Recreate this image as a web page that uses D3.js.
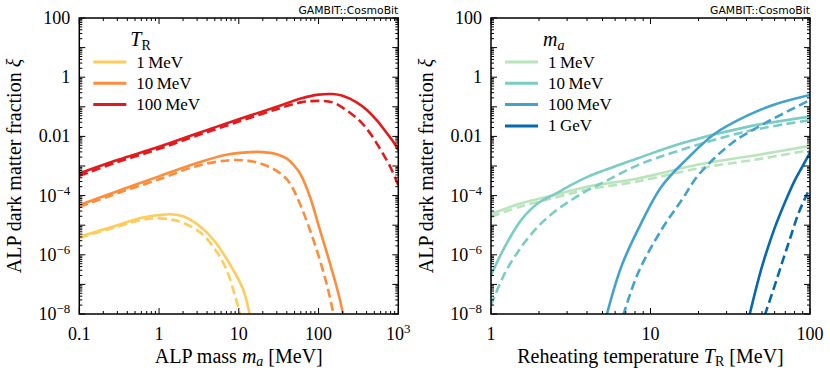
<!DOCTYPE html>
<html><head><meta charset="utf-8">
<script src="https://cdn.jsdelivr.net/npm/d3@7"></script>
<style>body{margin:0;background:#fff}</style>
</head><body><svg id="c" width="830" height="374"></svg>
<script>
// ---------------- DATA (y values given as log10 of xi) ----------------
// Left panel: xi vs ALP mass m_a [MeV], for reheating temperatures T_R
const leftLegend = ["1 MeV", "10 MeV", "100 MeV"];
const leftColors = ["#fecc5c", "#fd8d3c", "#e31a1c"];

const m_T1_solid  = [0.1, 0.3, 0.6, 1, 1.4, 2, 3.3, 5, 8.5, 11.4, 13.8];
const xi_T1_solid = [-5.39, -5.0, -4.75, -4.66, -4.63, -4.7, -5.05, -5.55, -6.51, -7.19, -8.05];
const m_T1_dash   = [0.1, 0.3, 0.6, 1, 1.5, 2, 3.3, 5, 7, 9, 10.5];
const xi_T1_dash  = [-5.42, -5.05, -4.82, -4.77, -4.82, -4.92, -5.25, -5.8, -6.5, -7.4, -8.05];

const m_T10_solid  = [0.1, 0.3, 1, 3, 7, 14, 20, 30, 40, 50, 60, 78, 104, 139, 177, 205];
const xi_T10_solid = [-4.32, -3.85, -3.35, -2.9, -2.62, -2.53, -2.53, -2.6, -2.75, -3.0, -3.3, -4.04, -5.16, -6.29, -7.3, -8.05];
const m_T10_dash   = [0.1, 0.3, 1, 3, 8, 15, 25, 35, 44, 58, 78, 104, 132, 155];
const xi_T10_dash  = [-4.38, -3.92, -3.45, -3.0, -2.8, -2.85, -3.05, -3.3, -3.59, -4.26, -5.16, -6.18, -7.19, -8.05];

const m_T100_solid  = [0.1, 0.3, 1, 3, 10, 30, 60, 100, 150, 200, 300, 400, 535, 700, 850, 1000];
const xi_T100_solid = [-3.25, -2.8, -2.35, -1.9, -1.42, -1.0, -0.72, -0.59, -0.57, -0.63, -0.85, -1.1, -1.45, -1.85, -2.15, -2.46];
const m_T100_dash   = [0.1, 0.3, 1, 3, 10, 30, 60, 100, 150, 250, 350, 450, 600, 800, 1000];
const xi_T100_dash  = [-3.33, -2.87, -2.42, -1.97, -1.5, -1.08, -0.85, -0.8, -0.85, -1.21, -1.55, -1.92, -2.45, -3.05, -3.65];

// Right panel: xi vs reheating temperature T_R [MeV], for ALP masses m_a
const rightLegend = ["1 MeV", "10 MeV", "100 MeV", "1 GeV"];
const rightColors = ["#bae4bc", "#7bccc4", "#43a2ca", "#0868ac"];

const T_m1_solid  = [1, 1.55, 2.5, 4, 8.3, 20, 50, 100];
const xi_m1_solid = [-4.62, -4.26, -3.98, -3.7, -3.42, -2.95, -2.6, -2.32];
const T_m1_dash   = [1, 1.55, 2.5, 4, 8.3, 20, 50, 100];
const xi_m1_dash  = [-4.72, -4.36, -4.07, -3.8, -3.52, -3.08, -2.75, -2.46];

const T_m10_solid  = [1, 1.22, 1.55, 1.97, 2.51, 3.19, 4.06, 5.16, 8.33, 15.7, 41, 100];
const xi_m10_solid = [-6.7, -5.73, -4.82, -4.26, -3.95, -3.64, -3.36, -3.14, -2.74, -2.23, -1.67, -1.33];
const T_m10_dash   = [1, 1.22, 1.55, 1.97, 2.51, 3.19, 4.06, 5.16, 8.33, 15.7, 41, 100];
const xi_m10_dash  = [-7.7, -6.63, -5.73, -5.05, -4.54, -4.15, -3.81, -3.53, -2.97, -2.45, -1.82, -1.45];

const T_m100_solid  = [5.3, 6.56, 8.33, 11.7, 17, 25.4, 41, 60, 100];
const xi_m100_solid = [-8.05, -6.4, -5.16, -3.7, -2.75, -1.9, -1.28, -0.92, -0.6];
const T_m100_dash   = [6.75, 8.33, 11.7, 15.7, 20, 32.3, 52, 100];
const xi_m100_dash  = [-8.05, -6.63, -5.16, -4.15, -3.3, -2.23, -1.56, -0.77];

const T_m1000_solid  = [41.7, 50, 60, 70, 80, 90, 100];
const xi_m1000_solid = [-8.05, -6.4, -5.1, -4.2, -3.5, -3.0, -2.55];
const T_m1000_dash   = [52, 60, 67, 75, 84, 92, 100];
const xi_m1000_dash  = [-8.05, -7.05, -6.25, -5.45, -4.65, -4.15, -3.75];

// tick labels
const yTickExps = [2, 1, 0, -1, -2, -3, -4, -5, -6, -7, -8];
const yTickLabels = {"2": ["100"], "0": ["1"], "-2": ["0.01"], "-4": ["10", "−4"], "-6": ["10", "−6"], "-8": ["10", "−8"]};
const leftXTicks = [0.1, 1, 10, 100, 1000];
const leftXLabels = [["0.1"], ["1"], ["10"], ["100"], ["10", "3"]];
const rightXTicks = [1, 10, 100];
const rightXLabels = [["1"], ["10"], ["100"]];

// ---------------- DRAWING ----------------
const svg = d3.select("#c");
const SERIF = "Liberation Serif";
const FS = 18;
const FSL = 20;
const Y0 = 18, Y1 = 314;

function addText(g, x, y, parts, anchor, size) {
  const t = g.append("text").attr("x", x).attr("y", y)
    .attr("text-anchor", anchor).style("font-family", SERIF).attr("font-size", size).attr("fill", "#000");
  t.append("tspan").text(parts[0]);
  if (parts.length > 1) t.append("tspan").attr("dy", -7).attr("font-size", size * 0.72).text(parts[1]);
  return t;
}

function panel(opt) {
  const g = svg.append("g");
  const x = d3.scaleLog().domain(opt.xdom).range([opt.x0, opt.x1]);
  const y = d3.scaleLog().domain([1e-8, 100]).range([Y1, Y0]);
  const id = "clip" + opt.id;
  svg.append("clipPath").attr("id", id).append("rect")
    .attr("x", opt.x0).attr("y", Y0).attr("width", opt.x1 - opt.x0).attr("height", Y1 - Y0);

  // curves
  const line = d3.line().x(d => x(d[0])).y(d => y(Math.pow(10, d[1]))).curve(d3.curveCatmullRom.alpha(0.5));
  const cg = g.append("g").attr("clip-path", `url(#${id})`);
  opt.series.forEach(s => {
    const pts = s.x.map((v, i) => [v, s.y[i]]);
    cg.append("path").attr("d", line(pts)).attr("fill", "none")
      .attr("stroke", s.color).attr("stroke-width", 2.6)
      .attr("stroke-dasharray", s.dash ? "9,4.5" : null);
  });

  // ticks
  const tg = g.append("g").attr("stroke", "#000").attr("stroke-width", 1);
  const [xa, xb] = opt.xdom;
  for (let k = Math.round(Math.log10(xa)); k <= Math.round(Math.log10(xb)); k++) {
    for (let m = 1; m <= 9; m++) {
      const v = m * Math.pow(10, k);
      if (v < xa * 0.999 || v > xb * 1.001) continue;
      const L = m === 1 ? 6 : 3;
      const px = x(v);
      tg.append("line").attr("x1", px).attr("x2", px).attr("y1", Y1).attr("y2", Y1 - L);
      tg.append("line").attr("x1", px).attr("x2", px).attr("y1", Y0).attr("y2", Y0 + L);
    }
  }
  for (let k = -8; k <= 2; k++) {
    for (let m = 1; m <= 9; m++) {
      const v = m * Math.pow(10, k);
      if (v > 100.01) continue;
      const L = m === 1 ? 6 : 3;
      const py = y(v);
      tg.append("line").attr("x1", opt.x0).attr("x2", opt.x0 + L).attr("y1", py).attr("y2", py);
      tg.append("line").attr("x1", opt.x1).attr("x2", opt.x1 - L).attr("y1", py).attr("y2", py);
    }
  }
  // frame
  g.append("rect").attr("x", opt.x0).attr("y", Y0).attr("width", opt.x1 - opt.x0).attr("height", Y1 - Y0)
    .attr("fill", "none").attr("stroke", "#000").attr("stroke-width", 1.5);

  // tick labels
  yTickExps.forEach(k => {
    const lab = yTickLabels[String(k)];
    if (!lab) return;
    addText(g, opt.x0 - 9, y(Math.pow(10, k)) + 6, lab, "end", FS);
  });
  opt.xticks.forEach((v, i) => {
    addText(g, x(v), 340, opt.xlabels[i], "middle", FS);
  });

  // axis labels
  const xl = g.append("text").attr("x", (opt.x0 + opt.x1) / 2).attr("y", 363)
    .attr("text-anchor", "middle").style("font-family", SERIF).attr("font-size", FSL);
  opt.xlabel(xl);
  const yl = g.append("text").attr("transform", `translate(${opt.x0 - 58},${(Y0 + Y1) / 2}) rotate(-90)`)
    .attr("text-anchor", "middle").style("font-family", SERIF).attr("font-size", FSL);
  yl.append("tspan").text("ALP dark matter fraction ");
  yl.append("tspan").attr("font-style", "italic").text("ξ");

  // watermark
  g.append("text").attr("x", opt.x1).attr("y", 14).attr("text-anchor", "end")
    .style("font-family", "DejaVu Sans").attr("font-size", 10.8).text("GAMBIT::CosmoBit");

  // legend
  const lg = g.append("g");
  const lt = lg.append("text").attr("x", opt.x0 + opt.legTitleDx).attr("y", 46)
    .style("font-family", SERIF).attr("font-size", FSL);
  opt.legTitle(lt);
  opt.legend.forEach((name, i) => {
    const ly = 62 + i * 21.3;
    lg.append("line").attr("x1", opt.x0 + 14).attr("x2", opt.x0 + 47).attr("y1", ly).attr("y2", ly)
      .attr("stroke", opt.colors[i]).attr("stroke-width", 3);
    lg.append("text").attr("x", opt.x0 + 57).attr("y", ly + 5.5)
      .style("font-family", SERIF).attr("font-size", 17).text(name.replace(" ", "\u2009"));
  });
}

panel({
  id: "L", x0: 79.3, x1: 398.3, xdom: [0.1, 1000],
  xticks: leftXTicks, xlabels: leftXLabels,
  series: [
    {x: m_T1_solid, y: xi_T1_solid, color: leftColors[0]},
    {x: m_T1_dash, y: xi_T1_dash, color: leftColors[0], dash: true},
    {x: m_T10_solid, y: xi_T10_solid, color: leftColors[1]},
    {x: m_T10_dash, y: xi_T10_dash, color: leftColors[1], dash: true},
    {x: m_T100_solid, y: xi_T100_solid, color: leftColors[2]},
    {x: m_T100_dash, y: xi_T100_dash, color: leftColors[2], dash: true}
  ],
  legend: leftLegend, colors: leftColors, legTitleDx: 51,
  legTitle: t => { t.append("tspan").attr("font-style", "italic").text("T");
    t.append("tspan").attr("dy", 4).attr("font-size", 14).text("R"); },
  xlabel: t => { t.append("tspan").text("ALP mass ");
    t.append("tspan").attr("font-style", "italic").text("m");
    t.append("tspan").attr("font-style", "italic").attr("font-size", 14).attr("dy", 3).text("a");
    t.append("tspan").attr("dy", -3).text(" [MeV]"); }
});

panel({
  id: "R", x0: 491, x1: 810, xdom: [1, 100],
  xticks: rightXTicks, xlabels: rightXLabels,
  series: [
    {x: T_m1_solid, y: xi_m1_solid, color: rightColors[0]},
    {x: T_m1_dash, y: xi_m1_dash, color: rightColors[0], dash: true},
    {x: T_m10_solid, y: xi_m10_solid, color: rightColors[1]},
    {x: T_m10_dash, y: xi_m10_dash, color: rightColors[1], dash: true},
    {x: T_m100_solid, y: xi_m100_solid, color: rightColors[2]},
    {x: T_m100_dash, y: xi_m100_dash, color: rightColors[2], dash: true},
    {x: T_m1000_solid, y: xi_m1000_solid, color: rightColors[3]},
    {x: T_m1000_dash, y: xi_m1000_dash, color: rightColors[3], dash: true}
  ],
  legend: rightLegend, colors: rightColors, legTitleDx: 52,
  legTitle: t => { t.append("tspan").attr("font-style", "italic").text("m");
    t.append("tspan").attr("dy", 4).attr("font-style", "italic").attr("font-size", 14).text("a"); },
  xlabel: t => { t.append("tspan").text("Reheating temperature ");
    t.append("tspan").attr("font-style", "italic").text("T");
    t.append("tspan").attr("font-size", 14).attr("dy", 3).text("R");
    t.append("tspan").attr("dy", -3).text(" [MeV]"); }
});
</script></body></html>
